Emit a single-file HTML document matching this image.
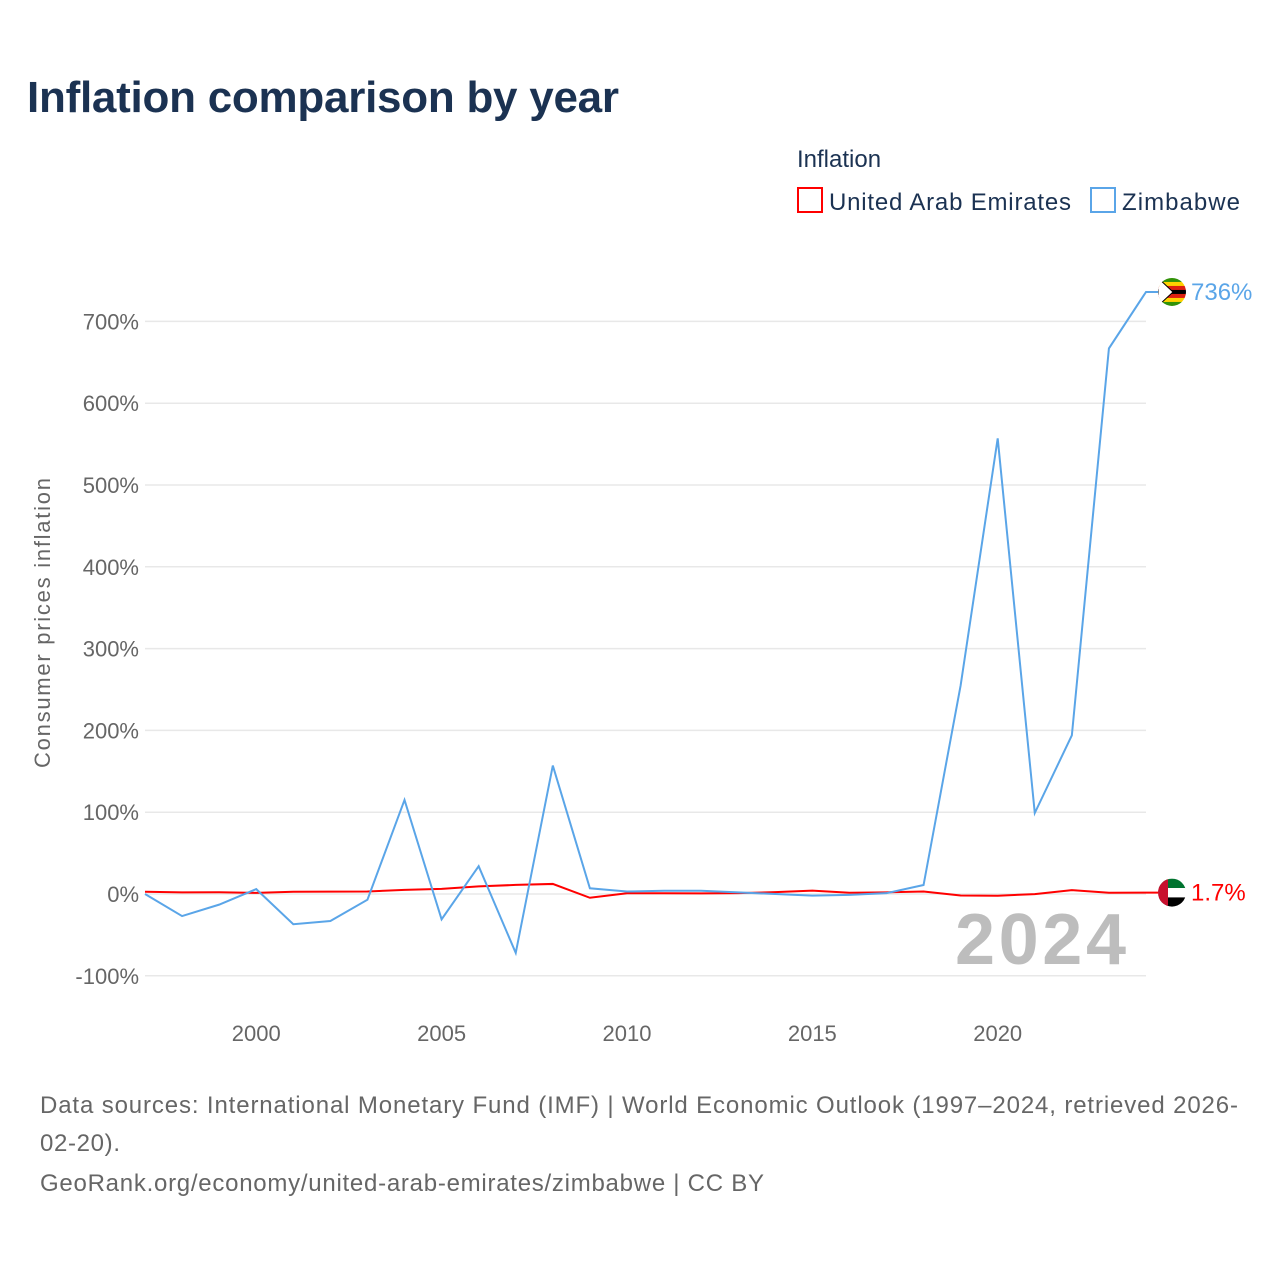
<!DOCTYPE html>
<html><head><meta charset="utf-8">
<style>
body{margin:0;background:#fff;width:1280px;height:1280px;overflow:hidden;font-family:"Liberation Sans",sans-serif;}
</style></head>
<body>
<svg id="chart" width="1280" height="1280" xmlns="http://www.w3.org/2000/svg" font-family="Liberation Sans, sans-serif">
<text x="27" y="112" font-size="44" font-weight="bold" fill="#1b3252" textLength="592">Inflation comparison by year</text>
<text x="797" y="167" font-size="24" fill="#1b3252">Inflation</text>
<g><rect x="798" y="188" width="24" height="24" fill="none" stroke="#ff0000" stroke-width="2"/><text x="829" y="210" font-size="24" fill="#1b3252" textLength="242">United Arab Emirates</text></g>
<g><rect x="1091" y="188" width="24" height="24" fill="none" stroke="#5aa5e8" stroke-width="2"/><text x="1122" y="210" font-size="24" fill="#1b3252" textLength="118">Zimbabwe</text></g>
<text transform="translate(50,623) rotate(-90)" text-anchor="middle" font-size="22" fill="#666" textLength="290">Consumer prices inflation</text>
<g id="grid"></g><g id="yt"></g><g id="xt"></g>
<text x="1126" y="964" text-anchor="end" font-size="72" font-weight="bold" fill="#bdbdbd" textLength="171">2024</text>
<g id="lines"></g>
<text font-size="24" fill="#666"><tspan x="40" y="1113" textLength="1198">Data sources: International Monetary Fund (IMF) | World Economic Outlook (1997–2024, retrieved 2026-</tspan><tspan x="40" y="1151" textLength="80">02-20).</tspan><tspan x="40" y="1191" textLength="724">GeoRank.org/economy/united-arab-emirates/zimbabwe | CC BY</tspan></text>
</svg>
<script>
const years=[1997,1998,1999,2000,2001,2002,2003,2004,2005,2006,2007,2008,2009,2010,2011,2012,2013,2014,2015,2016,2017,2018,2019,2020,2021,2022,2023,2024];
const zimbabwe=[0,-27,-13,6,-37,-33,-7,115,-31,34,-72,157,7,3,4,4,2,0,-2,-1,1,11,255,557,99,194,667,736];
const uae=[2.7,2.0,2.1,1.4,2.7,2.9,3.1,5.0,6.2,9.3,11.1,12.3,-4.6,0.9,0.9,0.7,1.1,2.3,4.1,1.6,2.0,3.1,-1.9,-2.1,-0.1,4.8,1.6,1.7];
const yTicks=[-100,0,100,200,300,400,500,600,700];
const xTicks=[2000,2005,2010,2015,2020];
const NS="http://www.w3.org/2000/svg";
const X=v=>145+(v-1997)*(1146-145)/27;
const Y=v=>894-v*0.818;
function mk(t,a,p){const e=document.createElementNS(NS,t);for(const k in a)e.setAttribute(k,a[k]);p.appendChild(e);return e;}
const g=document.getElementById('grid'),yt=document.getElementById('yt'),xt=document.getElementById('xt'),ln=document.getElementById('lines');
yTicks.forEach(v=>{
 const l=mk('line',{x1:145,x2:1146,y1:Y(v),y2:Y(v),stroke:'#e8e8e8','stroke-width':1.5},g);
 
 
 const t=mk('text',{x:139,y:Y(v)+8,'text-anchor':'end','font-size':22,fill:'#666'},yt);t.textContent=v+'%';
 
 
});
xTicks.forEach(v=>{
 const t=mk('text',{x:X(v),y:1041,'text-anchor':'middle','font-size':22,fill:'#666'},xt);t.textContent=v;
 
 
});
function series(vals,col,name){
 const pts=vals.map((v,i)=>X(years[i])+','+Y(v));
 pts.push((X(years[years.length-1])+12)+','+Y(vals[vals.length-1]));
 const p=mk('polyline',{points:pts.join(' '),fill:'none',stroke:col,'stroke-width':2},ln);
 
 
}
series(uae,'#ff0000','uae-line');
series(zimbabwe,'#5aa5e8','zimbabwe-line');
const lz=zimbabwe[zimbabwe.length-1],lu=uae[uae.length-1];
const fz=mk('g',{},ln);


const cz=Y(lz),cx=1172;
mk('clipPath',{id:'cz'},fz).appendChild(document.createElementNS(NS,'circle'));
fz.querySelector('clipPath circle').setAttribute('cx',cx);fz.querySelector('clipPath circle').setAttribute('cy',cz);fz.querySelector('clipPath circle').setAttribute('r',14);
const cols=['#319208','#ffd200','#de2010','#000','#de2010','#ffd200','#319208'];
cols.forEach((c,i)=>mk('rect',{x:cx-14,y:cz-14+i*4,width:28,height:4.2,fill:c,'clip-path':'url(#cz)'},fz));
mk('polygon',{points:`${cx-14},${cz-14} ${cx+1},${cz} ${cx-14},${cz+14}`,fill:'#fff',stroke:'#000','stroke-width':1,'clip-path':'url(#cz)'},fz);
const tz=mk('text',{x:1191,y:cz+8,'font-size':24,fill:'#5aa5e8'},ln);tz.textContent=lz+'%';


const fu=mk('g',{},ln);


const cu=Y(lu);
mk('clipPath',{id:'cu'},fu).appendChild(document.createElementNS(NS,'circle'));
const cc=fu.querySelector('clipPath circle');cc.setAttribute('cx',cx);cc.setAttribute('cy',cu);cc.setAttribute('r',14);
[['#00732f',0],['#fff',1],['#000',2]].forEach(([c,i])=>mk('rect',{x:cx-14,y:cu-14+i*9.4,width:28,height:9.6,fill:c,'clip-path':'url(#cu)'},fu));
mk('rect',{x:cx-14,y:cu-14,width:10,height:28,fill:'#c8102e','clip-path':'url(#cu)'},fu);
const tu=mk('text',{x:1191,y:cu+8,'font-size':24,fill:'#ff0000'},ln);tu.textContent=lu+'%';


</script>
</body></html>
